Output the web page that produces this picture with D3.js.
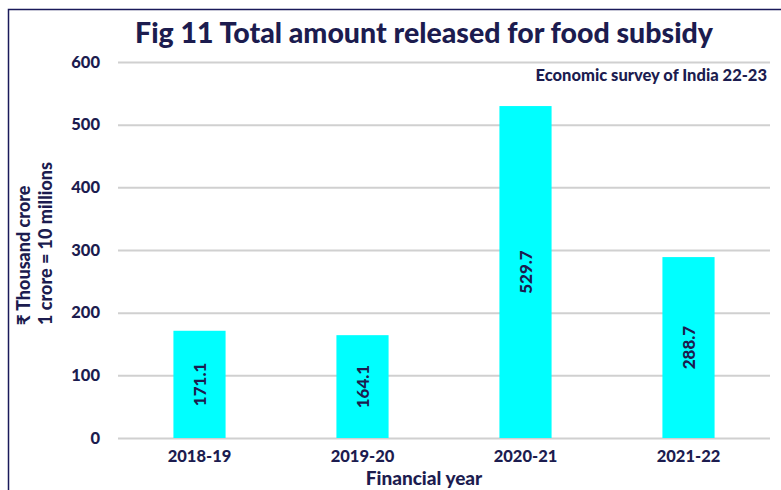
<!DOCTYPE html>
<html>
<head>
<meta charset="utf-8">
<script src="https://cdn.jsdelivr.net/npm/d3@7"></script>
<style>
  html, body { margin: 0; padding: 0; background: #fff; }
  svg { display: block; }
  text { font-family: Lato, "Open Sans", sans-serif; fill: #1c1c4f; font-weight: 900; }
</style>
</head>
<body>
<svg id="chart" width="781" height="490"></svg>
<script>
// Food subsidy released per financial year (₹ thousand crore)
const years = ["2018-19", "2019-20", "2020-21", "2021-22"];
const amounts = [171.1, 164.1, 529.7, 288.7];
const yTicks = [0, 100, 200, 300, 400, 500, 600];

const svg = d3.select("#chart");
const W = 781, H = 490;
const margin = { left: 118, right: 11, top: 62, bottom: 52 };

// frame around the figure
svg.append("rect")
  .attr("x", 8.5).attr("y", 9.5)
  .attr("width", W).attr("height", H)
  .attr("fill", "none").attr("stroke", "#1a1a5a").attr("stroke-width", 1.5);

const x = d3.scaleBand()
  .domain(years)
  .range([margin.left, W - margin.right])
  .paddingInner(0.68).paddingOuter(0.34);

const y = d3.scaleLinear()
  .domain([0, 600])
  .range([H - margin.bottom, margin.top]);

// gridlines + y tick labels
const yAxis = d3.axisLeft(y).tickValues(yTicks)
  .tickSize(-(W - margin.left - margin.right)).tickPadding(18);
const gy = svg.append("g")
  .attr("transform", `translate(${margin.left},0)`)
  .call(yAxis);
gy.select(".domain").remove();
gy.selectAll(".tick line").attr("stroke", "#d0d0d0").attr("stroke-width", 2);
gy.selectAll(".tick text")
  .style("font-size", "16.5px").style("font-weight", "900")
  .attr("fill", "#1c1c4f");

// bars
svg.append("g").selectAll("rect")
  .data(amounts)
  .join("rect")
  .attr("x", (d, i) => x(years[i]))
  .attr("y", d => y(d))
  .attr("width", x.bandwidth())
  .attr("height", d => y(0) - y(d))
  .attr("fill", "#00ffff");

// value labels, rotated inside each bar
svg.append("g").selectAll("text")
  .data(amounts)
  .join("text")
  .attr("transform", (d, i) => {
    const cx = x(years[i]) + x.bandwidth() / 2;
    const cy = (y(d) + y(0)) / 2;
    return `translate(${cx},${cy}) rotate(-90)`;
  })
  .attr("text-anchor", "middle")
  .attr("dominant-baseline", "central")
  .style("font-size", "17px")
  .text(d => d.toFixed(1));

// x category labels
const xAxis = d3.axisBottom(x).tickSize(0).tickPadding(12);
const gx = svg.append("g")
  .attr("transform", `translate(0,${y(0)})`)
  .call(xAxis);
gx.select(".domain").remove();
gx.selectAll(".tick text")
  .style("font-size", "16.5px").style("font-weight", "900")
  .attr("fill", "#1c1c4f");

// title
svg.append("text")
  .attr("x", 424).attr("y", 43)
  .attr("text-anchor", "middle")
  .style("font-size", "28.5px")
  .text("Fig 11 Total amount released for food subsidy");

// source note
svg.append("text")
  .attr("x", 767).attr("y", 81)
  .attr("text-anchor", "end")
  .style("font-size", "16.5px")
  .text("Economic survey of India 22-23");

// axis titles
svg.append("text")
  .attr("x", 424).attr("y", 485)
  .attr("text-anchor", "middle")
  .style("font-size", "19px")
  .text("Financial  year");

svg.append("text")
  .attr("transform", "translate(30,325) rotate(-90)")
  .attr("text-anchor", "start")
  .style("font-size", "18px")
  .text("₹ Thousand crore");
svg.append("text")
  .attr("transform", "translate(52,325) rotate(-90)")
  .attr("text-anchor", "start")
  .style("font-size", "18px")
  .text("1 crore = 10  millions");
</script>
</body>
</html>
